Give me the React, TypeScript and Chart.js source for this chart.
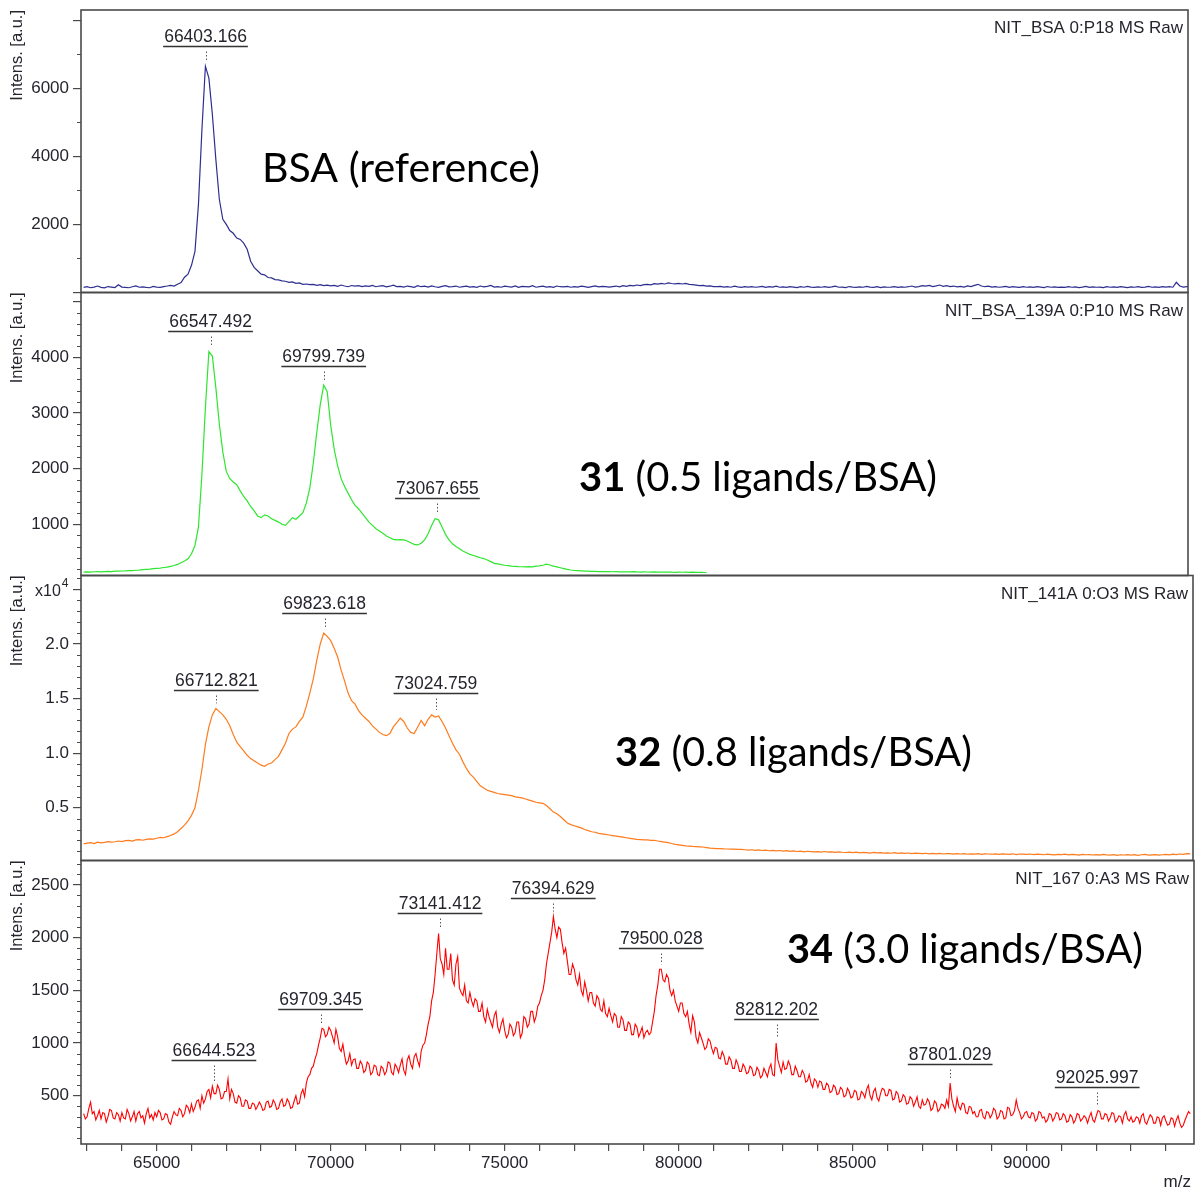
import React, { useEffect, useRef } from 'react';
import { Chart, registerables } from 'chart.js';

Chart.register(...registerables);

// ---------- data ----------
// all spectra start at m/z 62900; bsa/31/32 sampled every 100, 34 every 50
const MZ_START = 62900;
const bsaStep = 100;
const lig31Step = 100;
const lig32Step = 100;
const lig34Step = 50;

const bsaIntensity = [
  150,170,140,160,190,150,135,175,160,145,230,160,150,140,170,195,155,165,150,140,180,160,150,175,190,210,
  190,240,290,450,540,
  800,1210,2590,4790,6650,6300,5230,3910,2740,2150,
  2000,1820,1740,1600,1560,1450,1270,920,740,640,
  540,520,440,430,380,370,340,330,300,310,
  270,280,240,250,230,240,210,230,200,215,
  195,
  210,180,220,190,170,205,185,200,175,195,
  180,210,170,190,200,165,185,215,175,180,
  160,190,175,150,200,170,185,160,195,170,
  150,180,200,165,175,190,155,170,185,160,
  175,150,190,165,180,210,160,175,155,185,
  170,160,195,150,180,175,165,200,155,170,
  185,160,175,150,190,170,165,180,155,175,
  160,185,170,150,175,195,165,180,170,160,
  175,190,165,200,180,210,195,220,205,230,
  240,225,260,245,270,250,280,265,255,270,
  250,265,240,230,215,200,210,185,195,175,
  170,180,160,175,155,185,165,150,170,160,
  175,155,165,180,150,170,160,185,155,165,
  150,175,160,145,170,155,180,160,150,165,
  155,170,150,165,185,155,160,145,175,160,
  150,165,155,180,160,150,170,145,165,155,
  160,175,150,165,155,170,190,160,175,200,
  185,210,175,195,220,180,200,175,190,165,
  180,160,195,175,210,240,190,170,185,160,
  170,155,165,180,150,170,160,150,175,155,
  165,150,170,160,145,175,155,165,150,160,
  150,170,155,165,145,160,180,150,165,155,
  160,145,170,155,165,150,175,160,145,165,
  155,170,150,160,180,155,165,150,175,160,
  170,155,300,190,160,175,165,
];

const lig31Intensity = [
  140,145,142,148,150,146,152,155,150,158,160,
  162,165,170,168,175,178,185,190,195,205,
  210,215,225,230,245,260,280,310,340,380,
  470,620,950,1900,3100,4100,4020,3450,2800,2300,
  1950,1820,1760,1710,1600,1500,1420,1320,1240,1150,
  1120,1170,1150,1100,1070,1040,1000,980,1050,1120,
  1090,1150,1210,1380,1650,2100,2650,3150,3500,3380,
  2780,2350,2050,1820,1680,1560,1440,1340,1280,1200,
  1120,1040,980,920,880,840,790,760,730,720,
  725,720,700,670,640,630,660,720,830,980,
  1100,1080,950,820,720,650,600,560,520,490,
  460,440,420,400,385,360,330,300,290,275,
  265,258,250,245,240,238,235,240,236,250,
  255,265,285,270,250,235,220,205,190,180,
  172,168,165,160,158,155,156,152,150,152,
  150,148,150,146,148,145,147,150,145,143,
  146,144,142,145,143,140,142,144,140,138,
  141,139,142,138,140,137,139,136,135,
];

const lig32Intensity = [
  1680,1750,1800,1720,1850,1780,1820,1900,1850,1880,1950,
  1900,1980,2000,1950,2050,2080,2020,2100,2150,2120,
  2200,2280,2250,2350,2450,2600,2800,3100,3400,3800,
  4300,5000,6600,8500,10800,12400,13500,14100,13800,13500,
  13100,12500,11700,11000,10600,10200,9800,9500,9300,9100,
  8900,8800,9000,9100,9400,9700,10300,10900,11800,12200,
  12400,12900,13300,14300,15500,16800,18500,20000,21000,20700,
  20300,19600,18800,17600,16600,15500,14800,14500,13900,13500,
  13200,12900,12500,12200,11900,11700,11600,11800,12400,12800,
  13200,12900,12300,11900,11800,12400,13000,12500,13100,13500,
  13300,13400,12900,12300,11600,10900,10300,9900,9200,8600,
  8100,7800,7400,7000,6800,6600,6500,6400,6300,6250,
  6200,6150,6100,6000,5950,5900,5800,5700,5600,5500,
  5450,5400,5200,4900,4600,4450,4200,3900,3600,3450,
  3350,3250,3150,3000,2900,2800,2750,2650,2600,2550,
  2500,2450,2400,2350,2300,2250,2200,2150,2100,2080,
  2060,2050,2000,2020,1950,1900,1850,1800,1720,1650,
  1600,1550,1500,1480,1450,1440,1420,1400,1350,1300,
  1280,1260,1250,1230,1220,1210,1200,1190,1180,1150,
  1120,1150,1090,1130,1080,1110,1060,1100,1050,1080,
  1030,1060,1000,1050,990,1020,960,1010,980,950,
  970,930,990,940,960,910,950,920,900,940,
  890,930,870,910,880,850,900,860,890,840,
  870,830,880,820,860,810,850,800,840,820,
  790,830,780,810,770,820,760,800,790,750,
  790,760,800,740,780,750,790,730,770,760,
  740,780,720,770,750,730,780,710,760,740,
  720,760,700,750,730,690,740,710,680,730,
  700,740,680,720,700,660,730,690,710,670,
  700,650,720,680,660,710,640,690,670,700,
  660,700,640,690,720,650,680,710,660,690,
  720,680,750,700,760,720,800,780,
];

const lig34Intensity = [
  330,280,
  300,380,440,330,350,270,310,360,280,340,330,250,300,370,360,290,280,340,320,260,
  340,290,280,370,330,260,300,350,260,330,350,290,310,240,330,380,290,320,270,340,
  300,360,340,270,280,330,320,250,230,300,350,320,310,380,360,300,330,410,390,340,
  420,350,390,450,460,380,500,430,470,540,560,480,590,520,520,600,560,470,480,540,
  540,660,470,560,520,440,430,500,480,400,400,460,450,380,380,430,420,370,400,440,
  410,360,370,440,450,390,400,460,430,370,380,440,470,400,410,470,440,380,390,450,
  500,420,430,520,560,490,620,680,700,760,780,850,900,980,1050,1140,1130,1060,1080,1150,
  1120,1060,1000,1130,1060,950,920,990,880,800,830,900,790,840,850,760,760,830,800,720,
  740,820,800,700,720,790,780,700,690,780,760,700,730,820,810,720,700,800,770,720,
  790,850,740,700,840,880,800,760,870,900,830,780,920,980,1000,1080,1180,1250,1400,1480,
  1650,1850,2040,1800,1750,1650,1900,1700,1700,1850,1600,1550,1750,1820,1520,1480,1450,1550,1400,1380,
  1480,1400,1350,1420,1400,1300,1300,1380,1250,1200,1320,1250,1200,1150,1260,1300,1150,1100,1180,1230,
  1120,1050,1080,1180,1150,1070,1100,1200,1200,1050,1090,1250,1230,1150,1180,1300,1300,1200,1250,1350,
  1380,1450,1500,1600,1750,1850,1950,2050,2200,2080,2000,2100,2080,1950,1850,1900,1780,1650,1650,1750,
  1700,1600,1550,1650,1500,1450,1580,1500,1400,1480,1480,1380,1350,1450,1420,1320,1300,1400,1280,1250,
  1330,1260,1200,1280,1260,1150,1150,1250,1220,1120,1120,1200,1180,1080,1080,1180,1150,1060,1100,1150,
  1050,1100,1120,1080,1100,1200,1300,1450,1550,1700,1700,1600,1580,1650,1620,1500,1450,1500,1400,1350,
  1300,1380,1380,1280,1250,1300,1180,1100,1260,1200,1050,1000,1100,1050,1000,940,960,1040,1020,950,
  900,960,950,860,850,920,880,800,800,870,840,760,760,840,800,730,730,800,770,710,
  720,780,760,690,700,770,740,670,690,760,720,680,760,800,700,690,1000,840,780,720,
  820,750,760,830,790,700,700,780,740,680,680,740,710,630,640,700,620,580,660,640,
  580,640,630,560,560,620,600,530,540,600,580,510,520,580,560,490,500,570,540,480,
  490,550,540,460,470,540,520,480,560,600,500,460,540,570,480,450,520,570,560,500,
  500,560,550,460,470,540,520,440,450,510,490,420,430,490,470,400,440,490,400,380,
  460,410,420,470,440,360,380,450,430,350,370,420,410,380,460,400,620,470,400,350,
  480,400,370,430,420,340,330,400,390,330,350,300,300,360,370,300,280,350,340,290,
  320,380,360,280,300,360,350,280,290,390,380,310,320,360,460,380,340,280,300,340,
  350,300,290,340,330,260,280,350,340,290,300,250,270,330,320,260,290,340,330,270,
  280,330,310,250,260,320,300,240,270,330,320,260,280,310,290,240,300,340,270,250,
  310,360,350,280,280,330,320,260,290,340,330,250,270,310,300,240,320,350,280,260,
  300,250,260,300,290,240,310,330,250,230,280,320,300,240,240,300,290,220,290,310,
  260,220,230,290,280,210,270,310,240,200,220,270,310,350,330,
];

// annotated peaks (m/z) and intensity level of the label's underline
const bsaPeakMz = [66403.166];
const bsaPeakLevel = [7250];
const lig31PeakMz = [66547.492, 69799.739, 73067.655];
const lig31PeakLevel = [4470, 3842, 1472];
const lig32PeakMz = [66712.821, 69823.618, 73024.759];
const lig32PeakLevel = [15780, 22840, 15510];
const lig34PeakMz = [66644.523, 69709.345, 73141.412, 76394.629, 79500.028, 82812.202, 87801.029, 92025.997];
const lig34PeakLevel = [839, 1323, 2233, 2376, 1901, 1228, 801, 583];

// tick labels
const xTickLabels = [65000, 70000, 75000, 80000, 85000, 90000];
const bsaTickLabels = [2000, 4000, 6000];
const lig31TickLabels = [1000, 2000, 3000, 4000];
const lig32TickLabels = [5000, 10000, 15000, 20000];
const lig34TickLabels = [500, 1000, 1500, 2000, 2500];

// ---------- layout / style ----------
const W = 1197;
const H = 1191;
const PLOT_LEFT = 81;
const X_MIN = 62825;
const PX_PER_MZ = 0.0348;
const FONT = "'Liberation Sans', Arial, sans-serif";
const BIG_FONT = "Lato, 'Open Sans', sans-serif";
const TEXT = '#25252d';
const AXIS = '#4a4a4a';

type Part = { t: string; b: boolean };
type Panel = {
  key: string; values: number[]; step: number; color: string; width: number; top: number; bottom: number; right: number;
  yMin: number; yMax: number; major: number; minor: number; labels: number[]; div: number; digits: number;
  header: string; peakMz: number[]; peakLevel: number[]; big: Part[]; bigX: number; bigBase: number; bigW: number;
  showX: boolean; exp: boolean;
};

const panels: Panel[] = [
  { key: 'bsa', values: bsaIntensity, step: bsaStep, color: '#2e2e90', width: 1.2, top: 10, bottom: 292.5, right: 1188,
    yMin: 0, yMax: 8300, major: 2000, minor: 1000, labels: bsaTickLabels, div: 1, digits: 0,
    header: 'NIT_BSA 0:P18 MS Raw', peakMz: bsaPeakMz, peakLevel: bsaPeakLevel,
    big: [{ t: 'BSA (reference)', b: false }], bigX: 262, bigBase: 182, bigW: 278, showX: false, exp: false },
  { key: 'c31', values: lig31Intensity, step: lig31Step, color: '#2ee62e', width: 1.2, top: 292.5, bottom: 575.5, right: 1188,
    yMin: 81, yMax: 5162, major: 1000, minor: 200, labels: lig31TickLabels, div: 1, digits: 0,
    header: 'NIT_BSA_139A 0:P10 MS Raw', peakMz: lig31PeakMz, peakLevel: lig31PeakLevel,
    big: [{ t: '31', b: true }, { t: ' (0.5 ligands/BSA)', b: false }], bigX: 579, bigBase: 491, bigW: 358, showX: false, exp: false },
  { key: 'c32', values: lig32Intensity, step: lig32Step, color: '#ff7b1c', width: 1.2, top: 575.5, bottom: 860.5, right: 1193,
    yMin: 165, yMax: 26270, major: 5000, minor: 1000, labels: lig32TickLabels, div: 10000, digits: 1,
    header: 'NIT_141A 0:O3 MS Raw', peakMz: lig32PeakMz, peakLevel: lig32PeakLevel,
    big: [{ t: '32', b: true }, { t: ' (0.8 ligands/BSA)', b: false }], bigX: 615, bigBase: 766, bigW: 357, showX: false, exp: true },
  { key: 'c34', values: lig34Intensity, step: lig34Step, color: '#ff0000', width: 1.1, top: 860.5, bottom: 1144, right: 1194,
    yMin: 42, yMax: 2732, major: 500, minor: 100, labels: lig34TickLabels, div: 1, digits: 0,
    header: 'NIT_167 0:A3 MS Raw', peakMz: lig34PeakMz, peakLevel: lig34PeakLevel,
    big: [{ t: '34', b: true }, { t: ' (3.0 ligands/BSA)', b: false }], bigX: 787, bigBase: 963, bigW: 356, showX: true, exp: false },
];

function tickValues(min: number, max: number, step: number) {
  const out: { value: number }[] = [];
  for (let v = Math.ceil(min / step) * step; v <= max + 1e-9; v += step) out.push({ value: v });
  return out;
}

function makeConfig(p: Panel): any {
  const xMax = X_MIN + (p.right - PLOT_LEFT) / PX_PER_MZ;
  const decor = {
    id: 'decor_' + p.key,
    afterDraw(chart: any) {
      const ctx = chart.ctx as CanvasRenderingContext2D;
      const ca = chart.chartArea;
      const xs = chart.scales.x;
      const ys = chart.scales.y;
      ctx.save();
      // frame
      ctx.strokeStyle = AXIS;
      ctx.lineWidth = 1.6;
      ctx.setLineDash([]);
      ctx.strokeRect(ca.left, ca.top, ca.right - ca.left, ca.bottom - ca.top);
      // minor y ticks
      ctx.lineWidth = 1.2;
      ctx.beginPath();
      for (let v = Math.ceil(p.yMin / p.minor) * p.minor; v <= p.yMax; v += p.minor) {
        if (Math.abs(v % p.major) < 1e-6) continue;
        const y = Math.round(ys.getPixelForValue(v)) + 0.5;
        ctx.moveTo(ca.left - 4, y);
        ctx.lineTo(ca.left, y);
      }
      ctx.stroke();
      // header
      ctx.fillStyle = TEXT;
      ctx.font = `17px ${FONT}`;
      ctx.textAlign = 'right';
      ctx.textBaseline = 'alphabetic';
      ctx.fillText(p.header, ca.right - 5, ca.top + 23);
      // peak labels
      ctx.font = `17.5px ${FONT}`;
      p.peakMz.forEach((mz, i) => {
        const x = xs.getPixelForValue(mz);
        const uy = Math.round(ys.getPixelForValue(p.peakLevel[i])) + 0.5;
        const label = mz.toFixed(3);
        const w = ctx.measureText(label).width;
        ctx.fillStyle = TEXT;
        ctx.textAlign = 'center';
        ctx.fillText(label, x, uy - 5);
        ctx.strokeStyle = '#333';
        ctx.lineWidth = 1.5;
        ctx.setLineDash([]);
        ctx.beginPath();
        ctx.moveTo(x - w / 2 - 1, uy);
        ctx.lineTo(x + w / 2 + 1, uy);
        ctx.stroke();
        const idx = Math.round((mz - MZ_START) / p.step);
        let peak = -Infinity;
        for (let k = idx - 1; k <= idx + 1; k++) if (p.values[k] != null) peak = Math.max(peak, p.values[k]);
        const py = ys.getPixelForValue(peak);
        const y0 = uy + 5;
        const y1 = Math.max(py - 5, y0 + 2);
        ctx.strokeStyle = '#555';
        ctx.lineWidth = 1;
        ctx.setLineDash([1.5, 2]);
        ctx.beginPath();
        ctx.moveTo(Math.round(x) + 0.5, y0);
        ctx.lineTo(Math.round(x) + 0.5, y1);
        ctx.stroke();
      });
      ctx.setLineDash([]);
      // big compound label
      const base = 40;
      let total = 0;
      p.big.forEach((pt) => {
        ctx.font = `${pt.b ? 'bold ' : ''}${base}px ${BIG_FONT}`;
        total += ctx.measureText(pt.t).width;
      });
      const size = (base * p.bigW) / total;
      let cx = p.bigX;
      ctx.fillStyle = '#000';
      ctx.textAlign = 'left';
      p.big.forEach((pt) => {
        ctx.font = `${pt.b ? 'bold ' : ''}${size}px ${BIG_FONT}`;
        ctx.fillText(pt.t, cx, p.bigBase);
        cx += ctx.measureText(pt.t).width;
      });
      // exponent marker
      if (p.exp) {
        ctx.fillStyle = TEXT;
        ctx.font = `16px ${FONT}`;
        ctx.fillText('x10', 35, ca.top + 20);
        const wx = ctx.measureText('x10').width;
        ctx.font = `12px ${FONT}`;
        ctx.fillText('4', 35 + wx + 1, ca.top + 11);
      }
      // x axis title
      if (p.showX) {
        ctx.fillStyle = TEXT;
        ctx.font = `17px ${FONT}`;
        ctx.textAlign = 'right';
        ctx.fillText('m/z', ca.right - 3, H - 4);
      }
      ctx.restore();
    },
  };

  const fontTick = { family: FONT, size: 17 };
  return {
    type: 'line',
    data: {
      datasets: [
        {
          data: p.values.map((v, i) => ({ x: MZ_START + i * p.step, y: v })),
          borderColor: p.color,
          borderWidth: p.width,
          pointRadius: 0,
          tension: 0,
          fill: false,
        },
      ],
    },
    options: {
      animation: false,
      responsive: false,
      events: [],
      layout: {
        padding: { left: 4, right: W - p.right, top: p.top, bottom: p.showX ? 0 : H - p.bottom },
      },
      plugins: { legend: { display: false }, tooltip: { enabled: false } },
      scales: {
        x: {
          type: 'linear',
          min: X_MIN,
          max: xMax,
          display: p.showX,
          afterBuildTicks: (s: any) => { s.ticks = tickValues(X_MIN, xMax, 1000); },
          afterFit: (s: any) => {
            if (p.showX) s.height = H - p.bottom;
            s.paddingLeft = 0;
            s.paddingRight = 0;
          },
          ticks: {
            autoSkip: false,
            maxRotation: 0,
            padding: 2,
            color: TEXT,
            font: fontTick,
            callback: (v: number) => (xTickLabels.includes(Math.round(v)) ? String(Math.round(v)) : ''),
          },
          grid: { drawOnChartArea: false, drawTicks: true, tickLength: 7, color: AXIS, lineWidth: 1.2 },
          border: { display: false },
        },
        y: {
          type: 'linear',
          min: p.yMin,
          max: p.yMax,
          afterBuildTicks: (s: any) => { s.ticks = tickValues(p.yMin, p.yMax, p.major); },
          afterFit: (s: any) => {
            s.width = PLOT_LEFT - 4;
            s.paddingTop = 0;
            s.paddingBottom = 0;
          },
          ticks: {
            autoSkip: false,
            padding: 4,
            color: TEXT,
            font: fontTick,
            callback: (v: number) => (p.labels.includes(Math.round(v)) ? (v / p.div).toFixed(p.digits) : ''),
          },
          grid: { drawOnChartArea: false, drawTicks: true, tickLength: 8, color: AXIS, lineWidth: 1.2 },
          border: { display: false },
          title: {
            display: true,
            text: 'Intens. [a.u.]',
            align: 'end',
            color: TEXT,
            font: { family: FONT, size: 16.5 },
            padding: { top: 4, bottom: 0 },
          },
        },
      },
    },
    plugins: [decor],
  };
}

function PanelChart({ p }: { p: Panel }) {
  const ref = useRef<HTMLCanvasElement | null>(null);
  useEffect(() => {
    if (!ref.current) return;
    const chart = new Chart(ref.current, makeConfig(p));
    return () => chart.destroy();
  }, [p]);
  return (
    <canvas
      ref={ref}
      width={W}
      height={H}
      style={{ position: 'absolute', left: 0, top: 0, width: W, height: H }}
    />
  );
}

export default function App() {
  return (
    <div style={{ position: 'absolute', left: 0, top: 0, width: W, height: H, background: '#fff', overflow: 'hidden' }}>
      {panels.map((p) => (
        <PanelChart key={p.key} p={p} />
      ))}
    </div>
  );
}
